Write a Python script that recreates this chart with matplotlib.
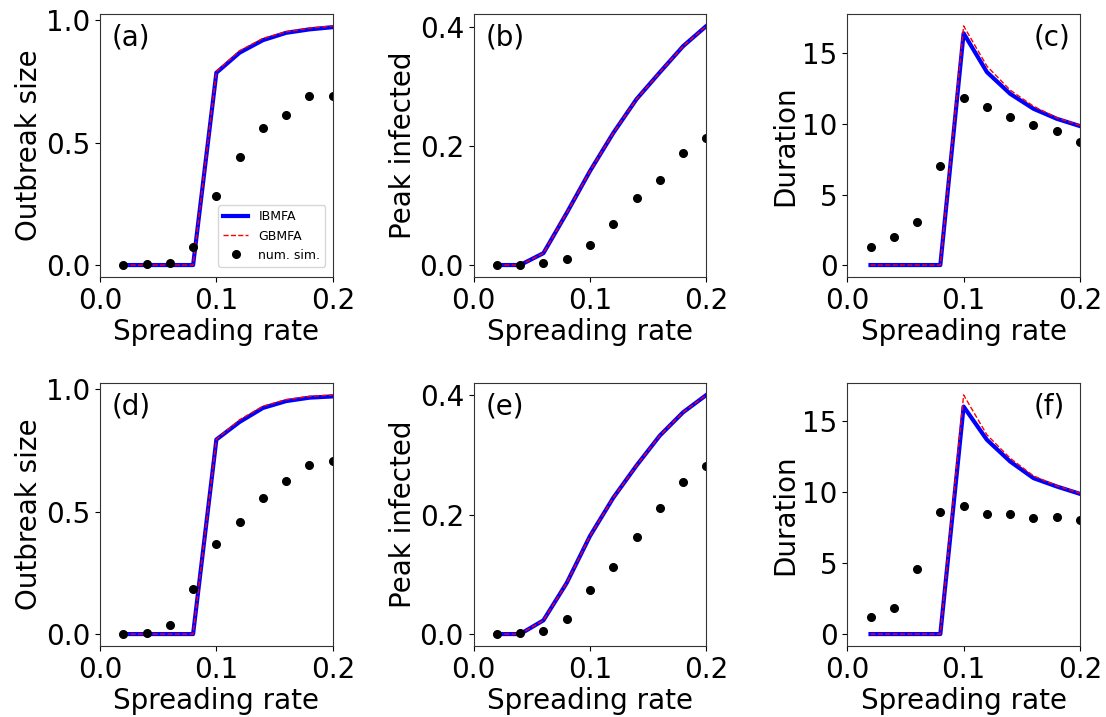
import numpy as np
import matplotlib
matplotlib.use('Agg')
import matplotlib.pyplot as plt

# spreading rates
rates = [0.02, 0.04, 0.06, 0.08, 0.10, 0.12, 0.14, 0.16, 0.18, 0.20]

# top row
size_ib_1 = [0, 0, 0, 0, 0.785, 0.867, 0.918, 0.948, 0.962, 0.971]
size_gb_1 = [0, 0, 0, 0, 0.79, 0.875, 0.925, 0.952, 0.967, 0.976]
size_sim_1 = [0.0, 0.003, 0.01, 0.074, 0.283, 0.439, 0.56, 0.614, 0.689, 0.689]

peak_ib_1 = [0, 0, 0.020, 0.0875, 0.158, 0.222, 0.279, 0.324, 0.368, 0.402]
peak_gb_1 = [0, 0, 0.020, 0.0875, 0.158, 0.222, 0.279, 0.324, 0.368, 0.402]
peak_sim_1 = [0.0, 0.0, 0.003, 0.0106, 0.034, 0.0695, 0.113, 0.143, 0.189, 0.214]

dur_ib_1 = [0, 0, 0, 0, 16.43, 13.68, 12.14, 11.08, 10.37, 9.85]
dur_gb_1 = [0, 0, 0, 0, 16.95, 14.1, 12.4, 11.26, 10.44, 9.9]
dur_sim_1 = [1.25, 1.96, 3.03, 7.0, 11.83, 11.22, 10.48, 9.96, 9.49, 8.73]

# bottom row
size_ib_2 = [0, 0, 0, 0, 0.794, 0.866, 0.923, 0.951, 0.965, 0.97]
size_gb_2 = [0, 0, 0, 0, 0.795, 0.875, 0.93, 0.957, 0.97, 0.976]
size_sim_2 = [0.0, 0.003, 0.036, 0.184, 0.366, 0.458, 0.556, 0.626, 0.692, 0.707]

peak_ib_2 = [0, 0, 0.023, 0.0855, 0.164, 0.228, 0.282, 0.332, 0.371, 0.40]
peak_gb_2 = [0, 0, 0.023, 0.0855, 0.164, 0.228, 0.282, 0.332, 0.371, 0.40]
peak_sim_2 = [0.0, 0.001, 0.0056, 0.025, 0.073, 0.113, 0.163, 0.211, 0.255, 0.281]

dur_ib_2 = [0, 0, 0, 0, 16.03, 13.69, 12.16, 10.99, 10.4, 9.88]
dur_gb_2 = [0, 0, 0, 0, 16.85, 14.04, 12.39, 11.15, 10.45, 9.93]
dur_sim_2 = [1.22, 1.85, 4.6, 8.59, 8.99, 8.45, 8.43, 8.15, 8.24, 8.05]

panels = [
    ('(a)', 'Outbreak size', size_ib_1, size_gb_1, size_sim_1, 'left'),
    ('(b)', 'Peak infected', peak_ib_1, peak_gb_1, peak_sim_1, 'left'),
    ('(c)', 'Duration', dur_ib_1, dur_gb_1, dur_sim_1, 'right'),
    ('(d)', 'Outbreak size', size_ib_2, size_gb_2, size_sim_2, 'left'),
    ('(e)', 'Peak infected', peak_ib_2, peak_gb_2, peak_sim_2, 'left'),
    ('(f)', 'Duration', dur_ib_2, dur_gb_2, dur_sim_2, 'right'),
]

plt.rcParams['font.family'] = 'DejaVu Sans'
fig, axes = plt.subplots(2, 3, figsize=(11.06, 7.17), dpi=100)
plt.subplots_adjust(left=0.0904, right=0.9765, top=0.9805, bottom=0.099,
                    wspace=0.605, hspace=0.403)

for ax, (tag, ylabel, ib, gb, sim, side) in zip(axes.flat, panels):
    ax.plot(rates, ib, color='blue', lw=3, label='IBMFA')
    ax.plot(rates, gb, color='red', ls='--', lw=1, label='GBMFA')
    ax.plot(rates, sim, 'o', color='black', ms=5.5, label='num. sim.')
    ax.set_xlim(0, 0.2)
    ax.set_xticks([0.0, 0.1, 0.2])
    ax.set_xlabel('Spreading rate', fontsize=20, labelpad=2)
    ax.set_ylabel(ylabel, fontsize=20, labelpad=2)
    ax.tick_params(labelsize=20)
    for s in ax.spines.values():
        s.set_color('#333333')
    if side == 'left':
        ax.text(0.05, 0.91, tag, transform=ax.transAxes, fontsize=20, va='center')
    else:
        ax.text(0.80, 0.91, tag, transform=ax.transAxes, fontsize=20, va='center')

axes[0, 0].set_yticks([0.0, 0.5, 1.0])
axes[1, 0].set_yticks([0.0, 0.5, 1.0])
axes[0, 1].set_yticks([0.0, 0.2, 0.4])
axes[1, 1].set_yticks([0.0, 0.2, 0.4])
axes[0, 2].set_yticks([0, 5, 10, 15])
axes[1, 2].set_yticks([0, 5, 10, 15])

axes[0, 0].legend(loc='lower right', fontsize=9, handlelength=2.0,
                  bbox_to_anchor=(0.995, 0.015))

plt.savefig('out.png')
